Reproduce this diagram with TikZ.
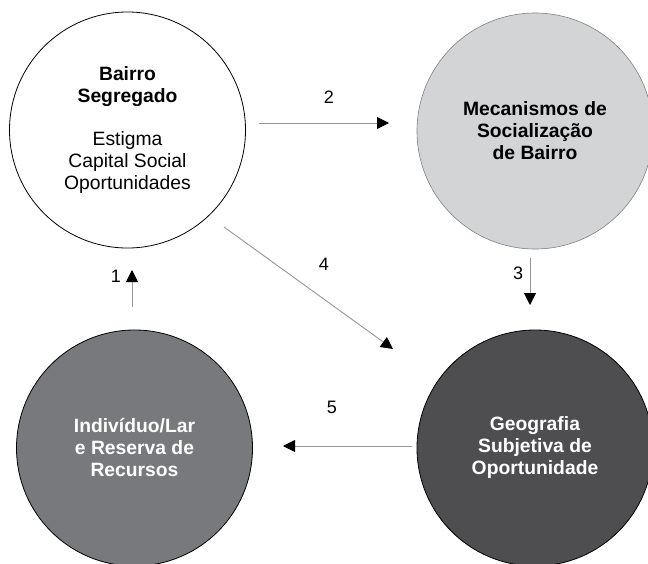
\documentclass[tikz,border=0pt]{standalone}
\usepackage{fontspec}
\setmainfont{Liberation Sans}
\usetikzlibrary{arrows.meta}
\definecolor{lightfill}{RGB}{211,212,214}
\definecolor{midfill}{RGB}{120,121,124}
\definecolor{darkfill}{RGB}{78,78,80}
\definecolor{linegray}{RGB}{150,150,150}
\begin{document}
\begin{tikzpicture}[x=1pt,y=-1pt,
  bubble/.style={circle,minimum size=236pt,inner sep=0pt,align=center,
    font=\fontsize{19.3}{22}\selectfont},
  conn/.style={draw=linegray,line width=0.9pt,
    -{Triangle[length=12pt,width=12pt,color=black]}},
  num/.style={font=\fontsize{18}{20}\selectfont}]
\useasboundingbox (0,0) rectangle (648,563);
\node[bubble,draw=black,line width=0.8pt,fill=white] (bairro) at (127.5,130)
  {\textbf{Bairro}\\\textbf{Segregado}\\[21pt]Estigma\\Capital Social\\Oportunidades};
\node[bubble,draw=gray,line width=0.6pt,fill=lightfill] (mec) at (535,131)
  {\textbf{Mecanismos de}\\\textbf{Socialização}\\\textbf{de Bairro}};
\node[bubble,draw=black,line width=0.8pt,fill=midfill,text=white] (ind) at (134.5,448)
  {\textbf{Indivíduo/Lar}\\\textbf{e Reserva de}\\\textbf{Recursos}};
\node[bubble,draw=black,line width=0.8pt,fill=darkfill,text=white] (geo) at (535,448)
  {\textbf{Geografia}\\\textbf{Subjetiva de}\\\textbf{Oportunidade}};
\coordinate (a2s) at (259,123);
\coordinate (a2e) at (389,123);
\coordinate (a3s) at (530,258);
\coordinate (a3e) at (530,305);
\coordinate (a4s) at (224,227);
\coordinate (a4e) at (393,349);
\coordinate (a1s) at (132,307);
\coordinate (a1e) at (132,270);
\coordinate (a5s) at (412,446);
\coordinate (a5e) at (283,446);
\draw[conn] (a2s) -- (a2e);
\draw[conn] (a3s) -- (a3e);
\draw[conn] (a4s) -- (a4e);
\draw[conn] (a1s) -- (a1e);
\draw[conn] (a5s) -- (a5e);
\node[num] (l2) at (329,97) {2};
\node[num] (l3) at (518,273) {3};
\node[num] (l1) at (116,276) {1};
\node[num] (l4) at (324,264) {4};
\node[num] (l5) at (332,407) {5};
\end{tikzpicture}
\end{document}
